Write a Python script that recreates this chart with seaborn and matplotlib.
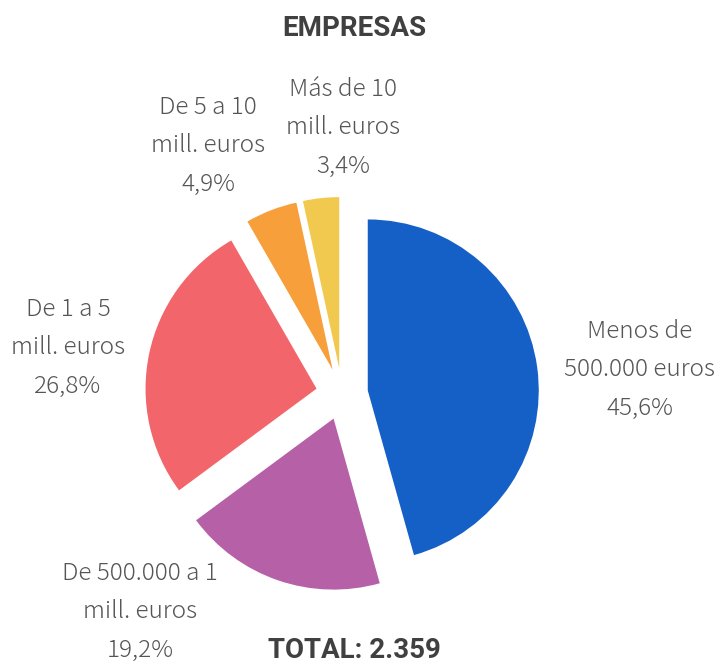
import matplotlib
matplotlib.use("Agg")
import matplotlib.pyplot as plt
import seaborn as sns

categories = ["Menos de\n500.000 euros", "De 500.000 a 1\nmill. euros", "De 1 a 5\nmill. euros",
              "De 5 a 10\nmill. euros", "Más de 10\nmill. euros"]
shares = [45.6, 19.2, 26.8, 4.9, 3.4]
colors = ["#1560C6", "#B660A8", "#F2666B", "#F7A03B", "#F2C94F"]
title = "EMPRESAS"
total_text = "TOTAL: 2.359"

# label centres in pixel coords (x, y from top)
label_pos = [(640, 370), (140, 612), (68, 348), (208, 146), (343, 128)]

sns.set_theme(style="white")
plt.rcParams["font.family"] = ["Noto Sans CJK JP", "DejaVu Sans"]

W, H = 720, 664
fig = plt.figure(figsize=(W / 100, H / 100), dpi=100)
ax = fig.add_axes([0, 0, 1, 1])
ax.set_xlim(0, W)
ax.set_ylim(0, H)
ax.axis("off")

# explode is in data units here (pixels)
ax.pie(shares, colors=colors, startangle=90, counterclock=False,
       explode=[26] * len(shares), radius=171, center=(342, H - 394),
       wedgeprops=dict(linewidth=0), frame=False)
ax.set_xlim(0, W)
ax.set_ylim(0, H)
ax.set_aspect("equal")

for cat, val, (px, py) in zip(categories, shares, label_pos):
    txt = cat + "\n" + f"{val:.1f}%".replace(".", ",")
    ax.text(px, H - py, txt, ha="center", va="center", fontsize=17.5,
            color="#555555", linespacing=1.72, fontweight="light")

fig.text(354 / W, 1 - 28 / H, title, ha="center", va="center", fontsize=20,
         fontweight="bold", color="#404040", family="Roboto")
fig.text(354 / W, 1 - 651 / H, total_text, ha="center", va="center", fontsize=20,
         fontweight="bold", color="#404040", family="Roboto")

fig.savefig("out.png", dpi=100, facecolor="white")
